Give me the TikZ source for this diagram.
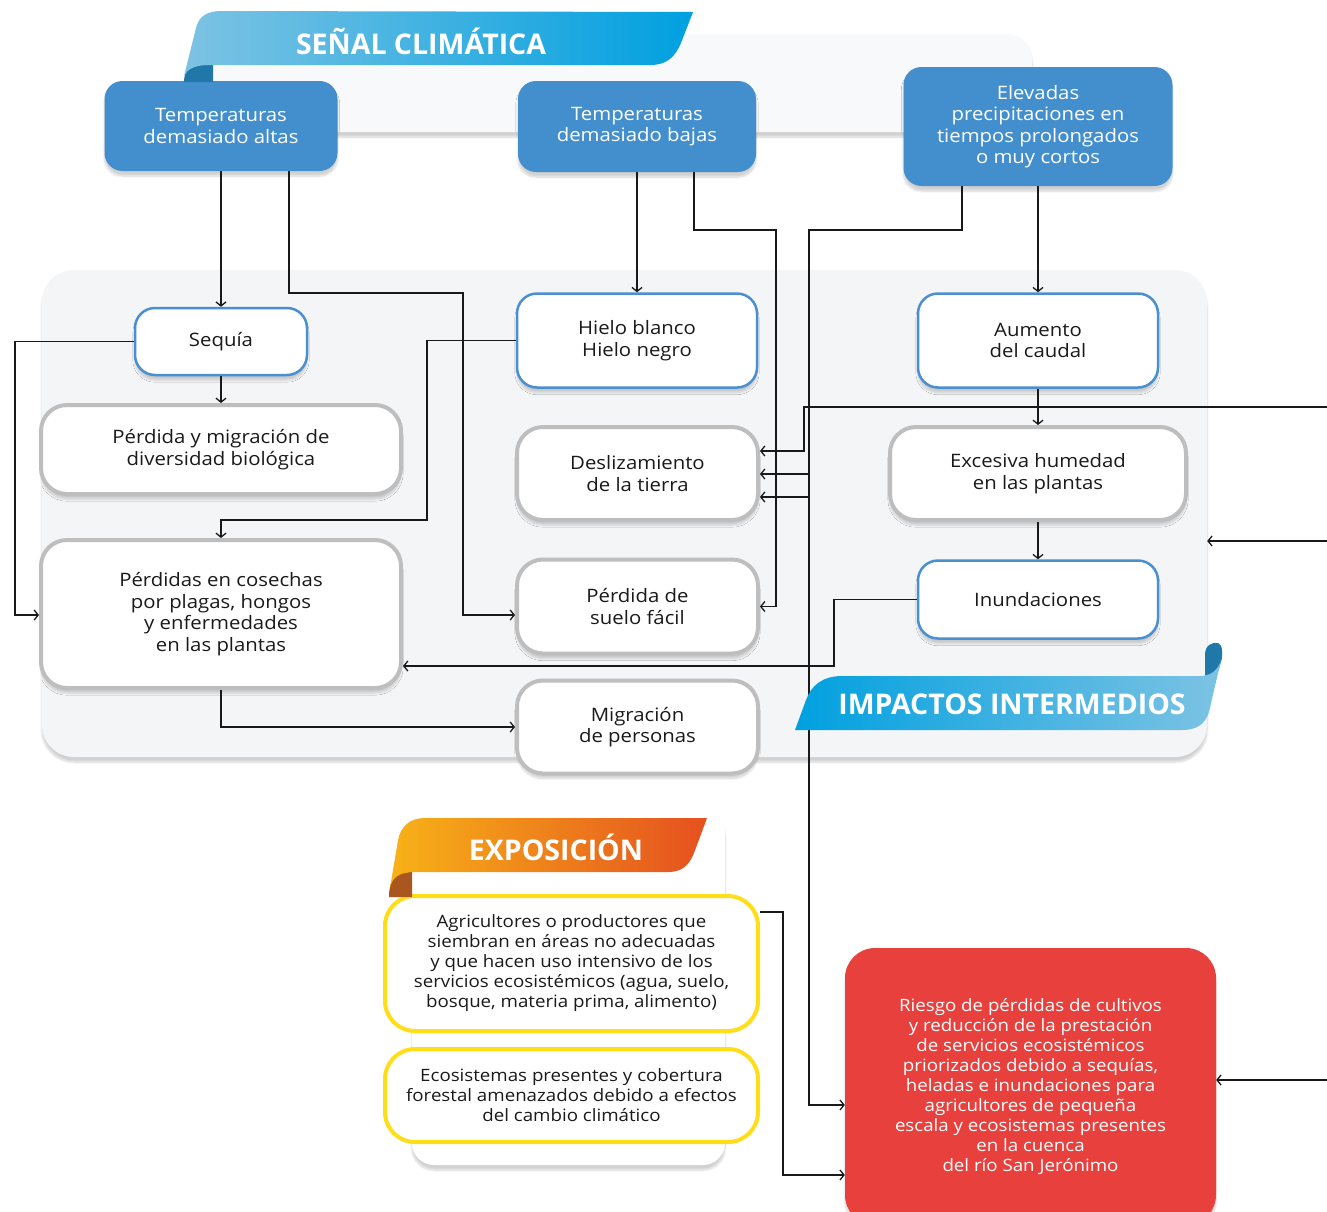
\documentclass[tikz,border=0pt]{standalone}
\usepackage{fontspec}
\setmainfont[FakeStretch=1.1]{Open Sans}
\newfontfamily\banfont{Open Sans}
\usetikzlibrary{arrows.meta,shadows.blur,shapes.misc}
\definecolor{boxblue}{HTML}{438FCD}
\definecolor{bordblue}{HTML}{4A90D0}
\definecolor{bordgray}{HTML}{BEBEBE}
\definecolor{bordyel}{HTML}{FFDE17}
\definecolor{redbox}{HTML}{E8403C}
\definecolor{bandark}{HTML}{00A0E0}
\definecolor{banlight}{HTML}{7DC3E3}
\definecolor{curlblue}{HTML}{1F78A8}
\definecolor{orleft}{HTML}{F7B217}
\definecolor{orright}{HTML}{E5501F}
\definecolor{curlor}{HTML}{A9571E}
\definecolor{panelgray}{HTML}{F4F5F7}
\definecolor{txt}{HTML}{1A1A1A}
\tikzset{
  shad/.style={blur shadow={shadow blur steps=8,shadow xshift=0pt,shadow yshift=-5pt,shadow opacity=18}},
  topbox/.style={draw=none,fill=boxblue,rounded corners=18pt,rectangle,inner sep=0pt,align=center,
     text=white,font=\fontsize{18.5}{21.5}\selectfont,shad},
  bluebox/.style={rectangle,draw=bordblue,line width=2.5pt,fill=white,rounded corners=20pt,inner sep=0pt,
     align=center,text=txt,font=\fontsize{18.5}{21.5}\selectfont,shad},
  graybox/.style={rectangle,draw=bordgray,line width=4pt,fill=white,rounded corners=26pt,inner sep=0pt,
     align=center,text=txt,font=\fontsize{18.5}{21.5}\selectfont,shad},
  yelbox/.style={rectangle,draw=bordyel,line width=4pt,fill=white,rounded corners=30pt,inner sep=0pt,
     align=center,text=txt,font=\fontsize{17}{20}\selectfont},
  conn/.style={draw=black!90,line width=1.3pt,-{Straight Barb[length=4pt,width=10pt]}},
  bantext/.style={text=white,font=\banfont\bfseries\fontsize{28.5}{30}\selectfont,inner sep=0pt}
}
\begin{document}
\begin{tikzpicture}[x=1pt,y=-1pt]
\useasboundingbox (0,0) rectangle (1327,1211);
% background panels
\node[rectangle,fill=panelgray!60,rounded corners=24pt,minimum width=837pt,minimum height=98pt,inner sep=0pt,shad] (pansen) at (613.5,83) {};
\node[rectangle,fill=panelgray,rounded corners=32pt,minimum width=1165pt,minimum height=487pt,inner sep=0pt,shad] (panimp) at (624.5,513.5) {};
\node[rectangle,fill=white,rounded corners=22pt,minimum width=313pt,minimum height=355pt,inner sep=0pt,shad] (panexp) at (568.5,987.5) {};

% nodes
\node[topbox,minimum width=233pt,minimum height=90pt] (altas) at (221,126) {Temperaturas\\demasiado altas};
\node[topbox,minimum width=238pt,minimum height=91pt] (bajas) at (637,126.5) {Temperaturas\\demasiado bajas};
\node[topbox,minimum width=269pt,minimum height=119pt] (elev) at (1038,126.5) {Elevadas\\precipitaciones en\\tiempos prolongados\\o muy cortos};

\node[bluebox,minimum width=172pt,minimum height=67pt] (sequia) at (221,341.5) {Sequía};
\node[bluebox,minimum width=240pt,minimum height=94pt] (hielo) at (637,340.5) {Hielo blanco\\Hielo negro};
\node[bluebox,minimum width=240pt,minimum height=94pt] (aum) at (1038,340.5) {Aumento\\del caudal};
\node[bluebox,minimum width=240pt,minimum height=78pt] (inund) at (1038,599.5) {Inundaciones};

\node[graybox,minimum width=360pt,minimum height=89pt] (perdmig) at (221,449.5) {Pérdida y migración de\\diversidad biológica};
\node[graybox,minimum width=241pt,minimum height=93pt] (desl) at (637.5,473.5) {Deslizamiento\\de la tierra};
\node[graybox,minimum width=296pt,minimum height=93pt] (exc) at (1038,473.5) {Excesiva humedad\\en las plantas};
\node[graybox,minimum width=360pt,minimum height=148pt] (cosechas) at (221,614) {Pérdidas en cosechas\\por plagas, hongos\\y enfermedades\\en las plantas};
\node[graybox,minimum width=241pt,minimum height=94pt] (suelo) at (637.5,606.5) {Pérdida de\\suelo fácil};
\node[graybox,minimum width=241pt,minimum height=93pt] (migr) at (637.5,727) {Migración\\de personas};

\node[yelbox,minimum width=373pt,minimum height=135pt] (agri) at (571.5,963.5) {Agricultores o productores que\\siembran en áreas no adecuadas\\y que hacen uso intensivo de los\\servicios ecosistémicos (agua, suelo,\\bosque, materia prima, alimento)};
\node[yelbox,minimum width=373pt,minimum height=93pt] (eco) at (571.5,1095.5) {Ecosistemas presentes y cobertura\\forestal amenazados debido a efectos\\del cambio climático};
\node[rectangle,fill=redbox,rounded corners=30pt,minimum width=371pt,minimum height=277pt,inner sep=0pt,align=center,text=white,font=\fontsize{17}{20}\selectfont,shad] (red) at (1030.5,1086.5) {Riesgo de pérdidas de cultivos\\y reducción de la prestación\\de servicios ecosistémicos\\priorizados debido a sequías,\\heladas e inundaciones para\\agricultores de pequeña\\escala y ecosistemas presentes\\en la cuenca\\del río San Jerónimo};

% free ends and branch points
\coordinate (e1) at (1327,407);
\coordinate (e2) at (1327,541);
\coordinate (e3) at (1327,1080);
\coordinate (b1) at (809,474);
\coordinate (b2) at (809,497);

% connectors
\draw[conn] (altas.south) -- (altas.south |- sequia.north);
\draw[conn] ([xshift=68pt]altas.south) |- (463,293) |- ([yshift=-8.5pt]suelo.west);
\draw[conn] (bajas.south) -- (hielo.north);
\draw[conn] ([xshift=57pt]bajas.south) |- (776,230) |- (suelo.east);
\draw[conn] ([xshift=-76pt]elev.south) |- (809,230) |- ([yshift=-18.5pt]red.west);
\draw[conn] (b1) -- (b1 -| desl.east);
\draw[conn] (b2) -- (b2 -| desl.east);
\draw[conn] (e1) -| (804,451) -- ([yshift=22.5pt]desl.east);
\draw[conn] (elev.south) -- (elev.south |- aum.north);
\draw[conn] (aum.south) -- (exc.north);
\draw[conn] (exc.south) -- (inund.north);
\draw[conn] (inund.west) -| (834,666) -- ([yshift=-52pt]cosechas.east);
\draw[conn] (hielo.west) -| (427,520) -| (cosechas.north);
\draw[conn] (sequia.west) -| (15,615) -- (cosechas.west |- 15,615);
\draw[conn] (sequia.south) -- (perdmig.north);
\draw[conn] (cosechas.south) |- (migr.west);
\draw[conn] (e2) -- (e2 -| panimp.east);
\draw[conn] (e3) -- (e3 -| red.east);
\draw[conn] ([yshift=51.5pt]agri.east) -| (783,1175) -- ([yshift=-88.5pt]red.west);

% banners
\fill[curlblue] (184,82) .. controls (184,70) and (190,64) .. (213,64) -- (213,82) -- cycle;
\shade[left color=banlight,right color=bandark] (184,76) -- (196,28) .. controls (199,16) and (207,11) .. (222,11) -- (693,12) -- (681,43) .. controls (675,57) and (667,65) .. (650,65) -- (210,65) .. controls (196,65) and (188,68) .. (184,76) -- cycle;
\node[bantext] (tsen) at (421,41) {SEÑAL CLIMÁTICA};

\fill[curlblue] (1205,692) -- (1205,655) .. controls (1205,645) and (1212,642) .. (1218,643) .. controls (1223,645) and (1223,655) .. (1221,662) -- (1212,692) -- cycle;
\shade[left color=bandark,right color=banlight] (795,730) -- (806,700) .. controls (811,686) and (822,676) .. (842,676) -- (1200,676) .. controls (1211,676) and (1218,670) .. (1221,660) -- (1209,712) .. controls (1205,724) and (1197,730) .. (1182,730) -- cycle;
\node[bantext] (timp) at (1012,704) {IMPACTOS INTERMEDIOS};

\fill[curlor] (389,897) .. controls (389,880) and (395,872) .. (412,872) -- (412,897) -- cycle;
\shade[left color=orleft,right color=orright] (390,888) -- (398,840) .. controls (401,826) and (410,818) .. (425,818) -- (707,818) -- (694,853) .. controls (689,866) and (681,872) .. (668,872) -- (412,872) .. controls (398,873) and (392,878) .. (390,888) -- cycle;
\node[bantext] (texp) at (556,847) {EXPOSICIÓN};
\end{tikzpicture}
\end{document}
